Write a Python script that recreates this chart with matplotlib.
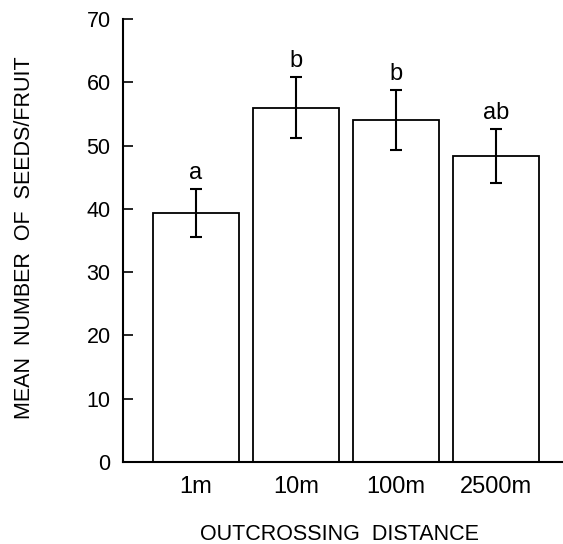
import matplotlib
matplotlib.use('Agg')
import matplotlib.pyplot as plt
import numpy as np

plt.rcParams['font.family'] = ['Liberation Sans', 'DejaVu Sans']

# data
distances = ['1m', '10m', '100m', '2500m']
mean_seeds = [39.3, 56.0, 54.0, 48.4]
se = [3.8, 4.85, 4.75, 4.25]
letters = ['a', 'b', 'b', 'ab']

fig = plt.figure(figsize=(5.63, 5.44), dpi=100)
ax = fig.add_axes([123 / 563, 1 - 462 / 544, (563 - 123) / 563, (462 - 19) / 544])

x = np.arange(len(distances))
ax.bar(x, mean_seeds, width=0.855, color='white', edgecolor='black', linewidth=1.3)
ax.errorbar(x, mean_seeds, yerr=se, fmt='none', ecolor='black',
            elinewidth=1.5, capsize=4, capthick=1.5)

for xi, m, e, lab in zip(x, mean_seeds, se, letters):
    ax.text(xi, m + e + 0.8, lab, ha='center', va='bottom', fontsize=17)

ax.set_xlim(-0.73, 3.67)
ax.set_ylim(0, 70)
ax.set_yticks(np.arange(0, 71, 10))
ax.set_xticks(x)
ax.set_xticklabels(distances, fontsize=17)
ax.tick_params(axis='y', direction='in', length=7, width=1.2, labelsize=15.5, pad=9)
ax.tick_params(axis='x', length=0, pad=10)

ax.spines['top'].set_visible(False)
ax.spines['right'].set_visible(False)
ax.spines['left'].set_linewidth(1.5)
ax.spines['bottom'].set_linewidth(1.5)

ax.set_ylabel('MEAN  NUMBER  OF  SEEDS/FRUIT', fontsize=15.5)
ax.set_xlabel('OUTCROSSING  DISTANCE', fontsize=15.5)
ax.yaxis.set_label_coords(-0.2, 0.507)
ax.xaxis.set_label_coords(0.493, -0.14)

fig.savefig('out.png', dpi=100)
